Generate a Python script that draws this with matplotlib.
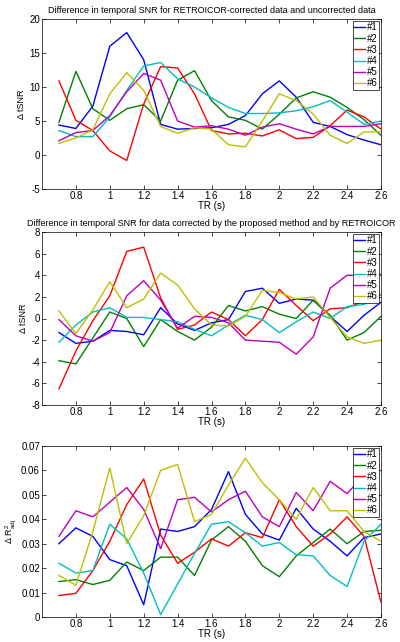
import matplotlib
matplotlib.use('Agg')
import matplotlib.pyplot as plt

plt.rcParams['font.family'] = ['Liberation Sans', 'DejaVu Sans']
plt.rcParams['mathtext.fontset'] = 'custom'
plt.rcParams['mathtext.rm'] = 'Liberation Sans'
plt.rcParams['mathtext.it'] = 'Liberation Sans'

# Datos (TR de 0.7 a 2.6 s)
tr = [0.7, 0.8, 0.9, 1.0, 1.1, 1.2, 1.3, 1.4, 1.5, 1.6,
      1.7, 1.8, 1.9, 2.0, 2.1, 2.2, 2.3, 2.4, 2.5, 2.6]
labels = ['#1', '#2', '#3', '#4', '#5', '#6']

# Panel 1: RETROICOR vs sin corregir
snr1_s1 = [4.4, 3.9, 7.2, 16.0, 18.0, 14.0, 4.5, 3.8, 3.9, 4.0, 4.5, 5.8, 9.0, 10.9, 8.5, 4.8, 4.2, 3.0, 2.2, 1.5]
snr1_s2 = [4.8, 12.3, 6.8, 5.1, 6.8, 7.4, 5.0, 11.0, 12.4, 8.0, 5.6, 5.1, 3.8, 6.0, 8.4, 9.3, 8.5, 7.0, 5.2, 2.9]
snr1_s3 = [10.9, 5.1, 3.6, 0.6, -0.8, 7.5, 13.0, 12.8, 9.0, 3.6, 3.1, 3.2, 2.8, 3.7, 2.4, 2.6, 4.3, 6.6, 5.6, 3.8]
snr1_s4 = [3.6, 2.7, 2.7, 5.6, 9.5, 13.1, 13.6, 11.2, 10.0, 8.4, 7.0, 6.1, 6.1, 6.2, 6.5, 7.1, 8.0, 6.3, 4.5, 5.0]
snr1_s5 = [2.1, 3.3, 3.6, 5.8, 9.3, 12.0, 11.0, 5.0, 4.1, 4.3, 3.8, 2.9, 4.1, 4.6, 3.8, 3.1, 4.2, 4.2, 4.2, 4.6]
snr1_s6 = [1.7, 2.5, 3.7, 9.0, 12.1, 9.5, 4.2, 3.2, 4.0, 3.8, 1.5, 1.2, 5.0, 9.0, 8.0, 6.0, 2.9, 1.7, 3.4, 3.4]

# Panel 2: metodo propuesto vs RETROICOR
snr2_s1 = [-1.3, -2.3, -2.1, -1.1, -1.2, -1.5, 1.0, -0.5, -1.1, -0.4, -0.1, 2.5, 2.8, 1.4, 1.8, 1.7, 0.2, -1.2, 0.3, 1.5]
snr2_s2 = [-3.9, -4.2, -1.8, 0.6, 0.0, -2.6, -0.1, -1.2, -2.0, -0.8, 1.2, 0.7, 1.1, 0.4, 0.0, 1.7, 0.3, -2.0, -1.3, 0.2]
snr2_s3 = [-6.5, -3.0, -0.2, 2.1, 6.2, 6.6, 1.9, -1.0, -0.6, 0.6, -0.1, -1.6, -0.1, 2.7, 1.2, -0.2, 0.9, 1.0, 1.6, 2.2]
snr2_s4 = [-2.2, -0.6, 0.6, 1.0, 0.1, 0.1, -0.1, -0.3, -1.0, -1.6, -0.6, 0.3, -0.1, -1.3, -0.3, 0.6, 0.0, 1.1, 1.3, 2.2]
snr2_s5 = [-0.1, -1.6, -2.1, -1.3, 2.1, 3.5, 1.7, -0.9, 0.2, 0.1, -0.4, -2.0, -2.1, -2.2, -3.3, -1.7, 2.8, 4.0, 4.0, 4.1]
snr2_s6 = [0.7, -1.4, 0.8, 3.4, 1.0, 1.8, 4.2, 3.1, 0.9, -0.6, -0.7, 0.2, 2.6, 2.4, 1.8, 2.0, 0.1, -1.7, -2.3, -2.0]

# Panel 3: R^2 ajustado
r2_s1 = [0.030, 0.0365, 0.033, 0.0235, 0.021, 0.005, 0.036, 0.035, 0.037, 0.044, 0.0595, 0.042, 0.034, 0.0315, 0.0445, 0.036, 0.031, 0.025, 0.0325, 0.034]
r2_s2 = [0.0145, 0.0153, 0.0133, 0.015, 0.0225, 0.019, 0.0245, 0.0245, 0.017, 0.0315, 0.037, 0.031, 0.021, 0.0165, 0.025, 0.0305, 0.036, 0.030, 0.035, 0.0355]
r2_s3 = [0.0088, 0.0097, 0.019, 0.031, 0.046, 0.0565, 0.0335, 0.022, 0.0265, 0.032, 0.029, 0.0345, 0.0325, 0.048, 0.037, 0.029, 0.034, 0.041, 0.033, 0.006]
r2_s4 = [0.022, 0.018, 0.019, 0.038, 0.032, 0.018, 0.001, 0.0135, 0.026, 0.038, 0.039, 0.0345, 0.029, 0.0305, 0.0255, 0.025, 0.017, 0.0125, 0.031, 0.038]
r2_s5 = [0.033, 0.0435, 0.041, 0.047, 0.053, 0.044, 0.028, 0.048, 0.049, 0.043, 0.048, 0.0515, 0.041, 0.037, 0.051, 0.0435, 0.0555, 0.0505, 0.058, 0.060]
r2_s6 = [0.017, 0.013, 0.035, 0.061, 0.030, 0.0415, 0.060, 0.0625, 0.039, 0.042, 0.054, 0.065, 0.055, 0.048, 0.040, 0.053, 0.0435, 0.0435, 0.035, 0.031]

colors = ['#0000ff', '#008000', '#ff0000', '#00bfbf', '#bf00bf', '#bfbf00']

panels = [
    ([snr1_s1, snr1_s2, snr1_s3, snr1_s4, snr1_s5, snr1_s6], (-5, 20), [-5, 0, 5, 10, 15, 20],
     'Difference in temporal SNR for RETROICOR-corrected data and uncorrected data', '\u0394 tSNR'),
    ([snr2_s1, snr2_s2, snr2_s3, snr2_s4, snr2_s5, snr2_s6], (-8, 8), [-8, -6, -4, -2, 0, 2, 4, 6, 8],
     'Difference in temporal SNR for data corrected by the proposed method and by RETROICOR', '\u0394 tSNR'),
    ([r2_s1, r2_s2, r2_s3, r2_s4, r2_s5, r2_s6], (0, 0.07), [0, 0.01, 0.02, 0.03, 0.04, 0.05, 0.06, 0.07],
     '', '\u0394 R$^2_{\\mathrm{adj}}$'),
]

W, H = 400, 642
fig = plt.figure(figsize=(4.0, 6.42), dpi=100)
boxes = [(19, 189), (232, 405), (446, 617)]  # top, bottom en pixeles
left, right = 42, 381
fs = 6.5

for (series, ylim, yticks, title, ylabel), (top, bot) in zip(panels, boxes):
    ax = fig.add_axes([left / W, 1 - bot / H, (right - left) / W, (bot - top) / H])
    for s, c, lab in zip(series, colors, labels):
        ax.plot(tr, s, color=c, lw=1.0, label=lab)
    ax.set_xlim(0.6, 2.6)
    ax.set_ylim(*ylim)
    ax.set_xticks([0.8, 1, 1.2, 1.4, 1.6, 1.8, 2, 2.2, 2.4, 2.6])
    ax.set_xticklabels(['0.8', '1', '1.2', '1.4', '1.6', '1.8', '2', '2.2', '2.4', '2.6'])
    ax.set_yticks(yticks)
    ax.set_yticklabels([('%g' % v) for v in yticks])
    ax.tick_params(direction='in', top=True, right=True, labelsize=fs + 0.5, length=3, width=0.5, pad=1.5)
    for sp in ax.spines.values():
        sp.set_linewidth(0.5)
    ax.set_xlabel('TR (s)', fontsize=fs + 0.5, labelpad=0)
    ax.set_ylabel(ylabel, fontsize=fs, labelpad=2)
    if title:
        ax.set_title(title, fontsize=fs, pad=4)
    leg = ax.legend(loc='upper right', fontsize=fs + 0.5, frameon=True, fancybox=False,
                    borderaxespad=0.2, handlelength=1.1, handletextpad=0.2,
                    labelspacing=0.12, borderpad=0.15)
    leg.get_frame().set_edgecolor('black')
    leg.get_frame().set_linewidth(0.5)
    leg.get_frame().set_alpha(1)

fig.savefig('out.png', dpi=100)
